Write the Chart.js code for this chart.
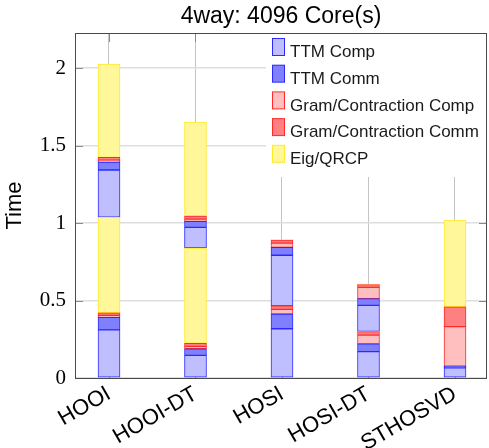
<!DOCTYPE html>
<html><head><meta charset="utf-8">
<script src="https://cdn.jsdelivr.net/npm/chart.js@4.4.1/dist/chart.umd.min.js"></script>
<style>html,body{margin:0;padding:0;background:#fff;}</style>
</head><body>
<canvas id="c" width="489" height="448"></canvas>
<script>
const categories = ['HOOI', 'HOOI-DT', 'HOSI', 'HOSI-DT', 'STHOSVD'];
const components = ['TTM Comp', 'TTM Comm', 'Gram/Contraction Comp', 'Gram/Contraction Comm', 'Eig/QRCP'];
// first pass (lower stack)
const ttmComp1  = [0.310, 0.146, 0.318, 0.170, 0.065];
const ttmComm1  = [0.082, 0.043, 0.095, 0.050, 0.012];
const gramComp1 = [0.012, 0.015, 0.030, 0.057, 0.254];
const gramComm1 = [0.017, 0.020, 0.022, 0.022, 0.129];
const eig1      = [0.616, 0.615, 0.000, 0.002, 0.559];
// second pass (upper stack)
const ttmComp2  = [0.305, 0.133, 0.327, 0.168, 0];
const ttmComm2  = [0.051, 0.039, 0.051, 0.043, 0];
const gramComp2 = [0.012, 0.014, 0.027, 0.073, 0];
const gramComm2 = [0.018, 0.020, 0.020, 0.017, 0];
const eig2      = [0.603, 0.607, 0.003, 0.004, 0];
const yTicks = [0, 0.5, 1, 1.5, 2];
const yTickLabels = ['0', '0.5', '1', '1.5', '2'];

const fills   = ['#bfbfff', '#8080ff', '#ffbfbf', '#ff8080', '#fff799'];
const borders = ['#2b2bff', '#2b2bff', '#ff2b2b', '#ff2b2b', '#ffea2a'];

const passes = [
  [ttmComp1, ttmComm1, gramComp1, gramComm1, eig1],
  [ttmComp2, ttmComm2, gramComp2, gramComm2, eig2]
];
const datasets = [];
passes.forEach((pass, p) => {
  pass.forEach((arr, k) => {
    datasets.push({
      label: components[k],
      data: arr.map((v, i) => ({x: i, y: v})),
      backgroundColor: fills[k],
      borderColor: borders[k],
      borderWidth: 1,
      borderSkipped: false,
      barThickness: 22,
      stack: 's'
    });
  });
});

function seg(ctx, x1, y1, x2, y2) { ctx.beginPath(); ctx.moveTo(x1, y1); ctx.lineTo(x2, y2); ctx.stroke(); }

const decor = {
  id: 'decor',
  beforeDatasetsDraw(chart) {
    const {ctx, chartArea: a, scales: {x, y}} = chart;
    ctx.save();
    ctx.strokeStyle = '#8a8a8a';
    ctx.lineWidth = 1;
    y.ticks.forEach(t => {
      const py = Math.round(y.getPixelForValue(t.value)) + 0.5;
      seg(ctx, a.left, py, a.left + 8, py);
      seg(ctx, a.right - 8, py, a.right, py);
    });
    x.ticks.forEach(t => {
      const px = Math.round(x.getPixelForValue(t.value)) + 0.5;
      seg(ctx, px, a.top, px, a.top + 9);
      seg(ctx, px, a.bottom - 9, px, a.bottom);
    });
    ctx.restore();
  },
  afterDatasetsDraw(chart) {
    const {ctx, chartArea: a} = chart;
    const w = 221, h = 144;
    const lx = a.right - w, ly = a.top;
    ctx.save();
    ctx.fillStyle = '#fff';
    ctx.fillRect(lx, ly, w, h);
    ctx.font = '17px "Liberation Sans", Arial, sans-serif';
    ctx.textBaseline = 'alphabetic';
    ctx.textAlign = 'left';
    components.forEach((name, k) => {
      const sy = ly + 5 + k * 26.7;
      ctx.fillStyle = borders[k];
      ctx.fillRect(lx + 6, sy, 13, 18);
      ctx.fillStyle = fills[k];
      ctx.fillRect(lx + 7, sy + 1, 11, 16);
      ctx.fillStyle = '#1a1a1a';
      ctx.fillText(name, lx + 24, ly + 24.3 + k * 26.7);
    });
    ctx.strokeStyle = '#4a4a4a';
    ctx.lineWidth = 1;
    ctx.strokeRect(Math.round(a.left) + 0.5, Math.round(a.top) + 0.5,
                   Math.round(a.right - a.left) - 1, Math.round(a.bottom - a.top));
    ctx.restore();
  }
};

new Chart(document.getElementById('c'), {
  type: 'bar',
  data: {datasets},
  options: {
    responsive: false,
    animation: false,
    devicePixelRatio: 1,
    layout: {padding: {top: 0, right: 2, bottom: 0, left: 0}},
    plugins: {
      legend: {display: false},
      tooltip: {enabled: false},
      title: {
        display: true,
        fullSize: false,
        text: '4way: 4096 Core(s)',
        color: '#000',
        font: {family: '"Liberation Sans", Arial, sans-serif', size: 23, weight: 'normal'},
        padding: {top: 3, bottom: 2.4}
      }
    },
    scales: {
      x: {
        type: 'linear',
        offset: false,
        min: -0.393,
        max: 4.37,
        stacked: true,
        afterBuildTicks: s => { s.ticks = categories.map((c, i) => ({value: i})); },
        afterFit: s => { s.height = 70; },
        ticks: {
          callback: v => categories[v],
          autoSkip: false,
          minRotation: 30,
          maxRotation: 30,
          padding: 3,
          color: '#000',
          font: {family: '"Liberation Sans", Arial, sans-serif', size: 22}
        },
        grid: {color: '#c4c4c4', lineWidth: 1, drawTicks: false, offset: false},
        border: {display: false}
      },
      y: {
        min: 0,
        max: 2.226,
        stacked: true,
        afterBuildTicks: s => { s.ticks = yTicks.map(v => ({value: v})); },
        afterFit: s => { s.width = 75; },
        ticks: {
          callback: (v, i) => yTickLabels[i],
          padding: 9,
          color: '#000',
          font: {family: '"Liberation Serif", "Times New Roman", serif', size: 21}
        },
        grid: {color: '#dedede', lineWidth: 1.5, drawTicks: false},
        border: {display: false},
        title: {
          display: true,
          text: 'Time',
          color: '#000',
          font: {family: '"Liberation Sans", Arial, sans-serif', size: 22},
          padding: {top: 2, bottom: 0}
        }
      }
    }
  },
  plugins: [decor]
});
</script>
</body></html>
